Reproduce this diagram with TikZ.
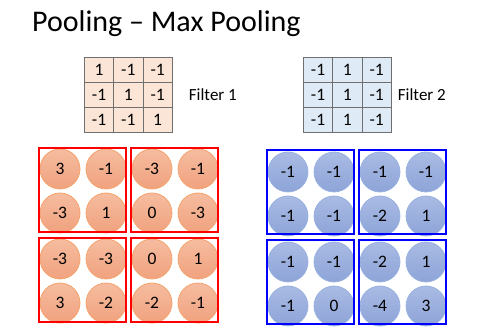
\documentclass[tikz,border=0pt]{standalone}
\usepackage{fontspec}
\setmainfont{Carlito}
\usepackage{xcolor}
\usetikzlibrary{positioning}
\definecolor{peachcell}{HTML}{FBE5D6}
\definecolor{bluecell}{HTML}{DEEBF7}
\definecolor{cellline}{HTML}{6F6F6F}
\definecolor{orangetop}{HTML}{F6BCA0}
\definecolor{orangebot}{HTML}{F0A27E}
\definecolor{orangeline}{HTML}{F4A46C}
\definecolor{bluetop}{HTML}{A9BBE4}
\definecolor{bluebot}{HTML}{8EA4D8}
\definecolor{blueline}{HTML}{9AB2E0}

\tikzset{
  cell/.style={draw=cellline, line width=0.8pt, minimum width=29.3pt, minimum height=25pt,
               inner sep=0pt, anchor=north west, font=\fontsize{17.5}{20}\selectfont},
  filterlabel/.style={font=\fontsize{17}{20}\selectfont, inner sep=0pt, anchor=west},
  dot/.style={circle, minimum size=40pt, inner sep=0pt, line width=0.8pt,
              font=\fontsize{17.5}{20}\selectfont},
  orangedot/.style={dot, draw=orangeline, top color=orangetop, bottom color=orangebot},
  bluedot/.style={dot, draw=blueline, top color=bluetop, bottom color=bluebot},
  poolbox/.style={rectangle, line width=2.5pt, minimum width=87pt, minimum height=84pt, inner sep=0pt},
}

\begin{document}
\begin{tikzpicture}[x=1pt, y=-1pt]
  \useasboundingbox (0,0) rectangle (477,336);

  % title
  \node[anchor=base west, inner sep=0pt, font=\fontsize{30}{34}\selectfont] (title) at (32,32) {Pooling – Max Pooling};

  % filters
  \foreach \row [count=\r] in {{1,-1,-1},{-1,1,-1},{-1,-1,1}}
    \foreach \v [count=\c] in \row
      \node[cell, fill=peachcell] (fa-\r-\c) at ({84+(\c-1)*29.3},{57+(\r-1)*25}) {\v};
  \foreach \row [count=\r] in {{-1,1,-1},{-1,1,-1},{-1,1,-1}}
    \foreach \v [count=\c] in \row
      \node[cell, fill=bluecell] (fb-\r-\c) at ({303+(\c-1)*29.3},{57+(\r-1)*25}) {\v};
  \node[filterlabel, right=16pt of fa-2-3] (labela) {Filter 1};
  \node[filterlabel, right=6pt of fb-2-3] (labelb) {Filter 2};

  % feature map of filter 1
  \foreach \bx/\by/\vals [count=\k] in {39/148/{3,-1,-3,1}, 131/148/{-3,-1,0,-3},
                                       39/238/{-3,-3,3,-2}, 131/238/{0,1,-2,-1}} {
    \foreach \v [count=\j from 0] in \vals {
      \pgfmathtruncatemacro\cx{mod(\j,2)}
      \pgfmathtruncatemacro\cy{int(\j/2)}
      \node[orangedot] (ra\k-\j) at ({\bx+21+\cx*46},{\by+21+\cy*44}) {\v};
    }
    \node[poolbox, draw=red] (boxa\k) at (\bx+43.5,\by+42) {};
  }

  % feature map of filter 2
  \foreach \bx/\by/\vals [count=\k] in {267/150/{-1,-1,-1,-1}, 359/150/{-1,-1,-2,1},
                                       267/240/{-1,-1,-1,0}, 359/240/{-2,1,-4,3}} {
    \foreach \v [count=\j from 0] in \vals {
      \pgfmathtruncatemacro\cx{mod(\j,2)}
      \pgfmathtruncatemacro\cy{int(\j/2)}
      \node[bluedot] (rb\k-\j) at ({\bx+21+\cx*46},{\by+22+\cy*44}) {\v};
    }
    \node[poolbox, draw=blue] (boxb\k) at (\bx+43.5,\by+42) {};
  }
\end{tikzpicture}
\end{document}
